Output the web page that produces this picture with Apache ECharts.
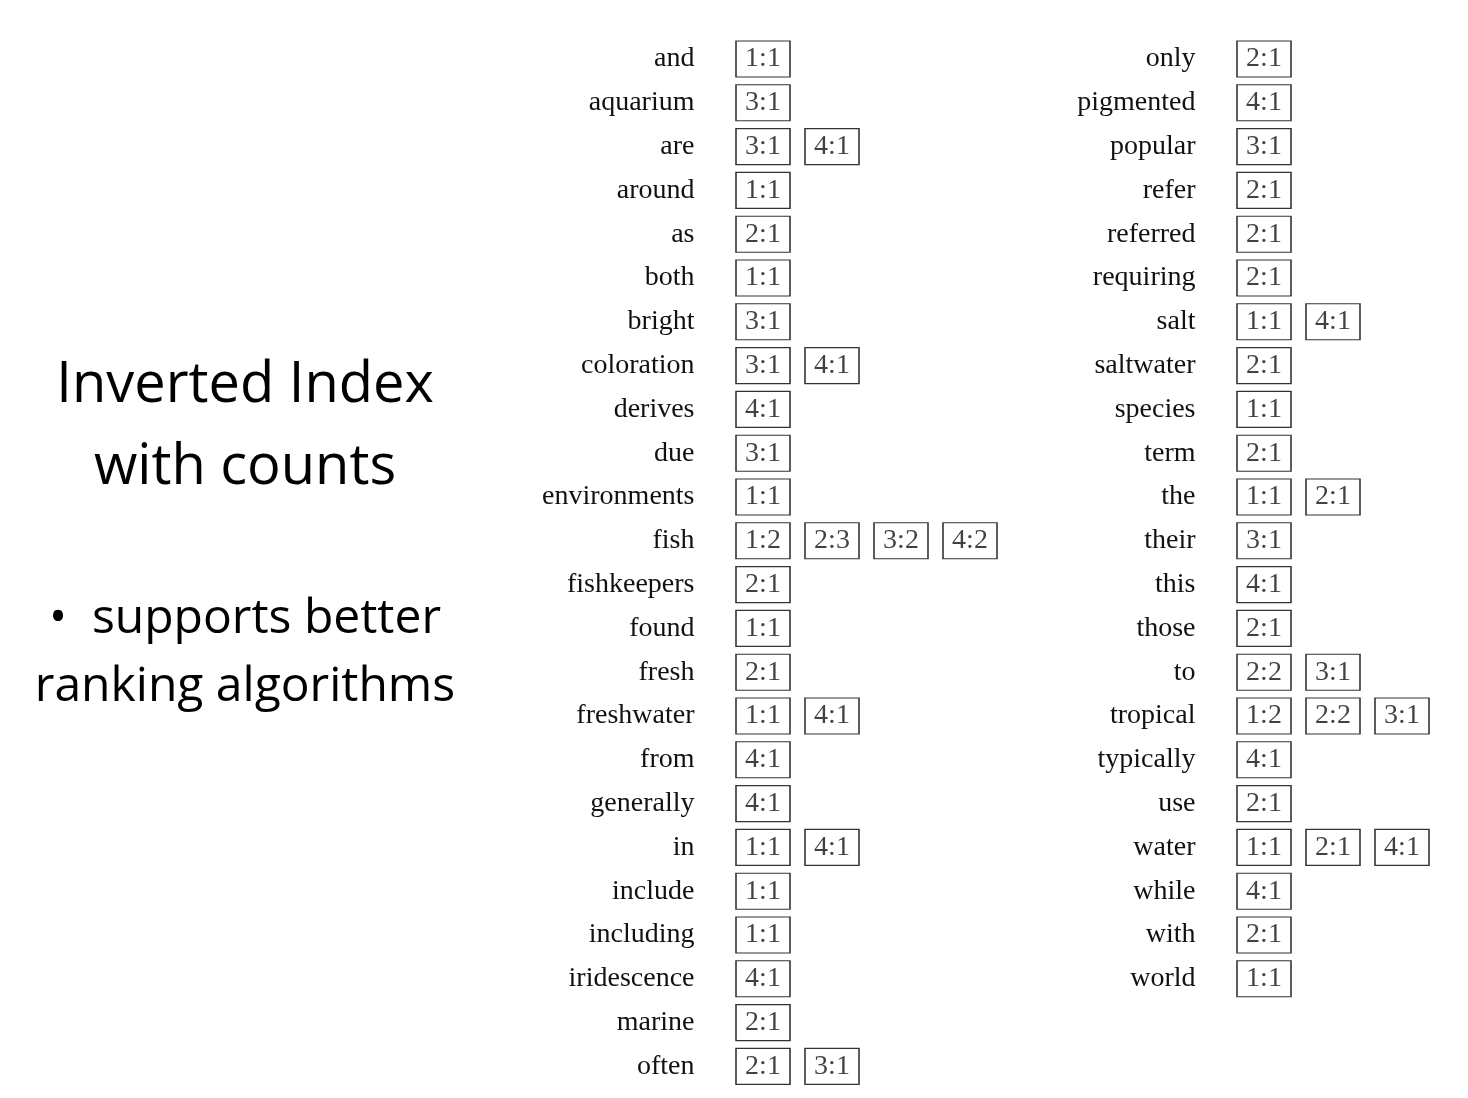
<!DOCTYPE html>
<html>
<head>
<meta charset="utf-8">
<title>Inverted Index with counts</title>
<script src="https://cdn.jsdelivr.net/npm/echarts@6/dist/echarts.min.js"></script>
<style>
    html, body { margin: 0; padding: 0; background: #fff; }
    #main { width: 1468px; height: 1098px; }
</style>
</head>
<body>
<div id="main"></div>
<script>
    // terms and their postings [doc, count]
    var leftTerms = ['and', 'aquarium', 'are', 'around', 'as', 'both', 'bright', 'coloration',
        'derives', 'due', 'environments', 'fish', 'fishkeepers', 'found', 'fresh', 'freshwater',
        'from', 'generally', 'in', 'include', 'including', 'iridescence', 'marine', 'often'];
    var leftPostings = [
        [[1, 1]], [[3, 1]], [[3, 1], [4, 1]], [[1, 1]], [[2, 1]], [[1, 1]], [[3, 1]], [[3, 1], [4, 1]],
        [[4, 1]], [[3, 1]], [[1, 1]], [[1, 2], [2, 3], [3, 2], [4, 2]], [[2, 1]], [[1, 1]], [[2, 1]], [[1, 1], [4, 1]],
        [[4, 1]], [[4, 1]], [[1, 1], [4, 1]], [[1, 1]], [[1, 1]], [[4, 1]], [[2, 1]], [[2, 1], [3, 1]]
    ];
    var rightTerms = ['only', 'pigmented', 'popular', 'refer', 'referred', 'requiring', 'salt', 'saltwater',
        'species', 'term', 'the', 'their', 'this', 'those', 'to', 'tropical', 'typically', 'use',
        'water', 'while', 'with', 'world'];
    var rightPostings = [
        [[2, 1]], [[4, 1]], [[3, 1]], [[2, 1]], [[2, 1]], [[2, 1]], [[1, 1], [4, 1]], [[2, 1]],
        [[1, 1]], [[2, 1]], [[1, 1], [2, 1]], [[3, 1]], [[4, 1]], [[2, 1]], [[2, 2], [3, 1]], [[1, 2], [2, 2], [3, 1]],
        [[4, 1]], [[2, 1]], [[1, 1], [2, 1], [4, 1]], [[4, 1]], [[2, 1]], [[1, 1]]
    ];

    var serif = '"Liberation Serif", "DejaVu Serif", serif';
    var rowH = 43.8;

    function toPoints(postings) {
        var pts = [];
        postings.forEach(function (list, row) {
            list.forEach(function (p, slot) {
                pts.push({ value: [slot, row], name: p[0] + ':' + p[1] });
            });
        });
        return pts;
    }

    function boxSeries(idx, postings) {
        return {
            type: 'scatter',
            xAxisIndex: idx,
            yAxisIndex: idx,
            symbol: 'rect',
            symbolSize: [54, 36],
            itemStyle: { color: '#fff', borderColor: '#000', borderWidth: 1.3 },
            label: {
                show: true, position: 'inside', formatter: '{b}',
                fontFamily: serif, fontSize: 28, color: '#111'
            },
            data: toPoints(postings)
        };
    }

    function yAxis(idx, terms) {
        return {
            type: 'category', gridIndex: idx, data: terms, inverse: true,
            axisLine: { show: false }, axisTick: { show: false }, splitLine: { show: false },
            axisLabel: { fontFamily: serif, fontSize: 28, color: '#111', margin: 34 }
        };
    }

    function xAxis(idx, max) {
        return {
            type: 'value', gridIndex: idx, min: -0.5, max: max, show: false
        };
    }

    var myChart = echarts.init(document.getElementById('main'));

    var option = {
        animation: false,
        title: [
            {
                text: 'Inverted Index\nwith counts', left: 240, top: 340, textAlign: 'center',
                textStyle: { fontFamily: '"Open Sans", "Noto Sans", sans-serif', fontSize: 56, fontWeight: 'normal', lineHeight: 82, color: '#000' }
            },
            {
                text: '•  supports better\nranking algorithms', left: 240, top: 580, textAlign: 'center',
                textStyle: { fontFamily: '"Open Sans", "Noto Sans", sans-serif', fontSize: 48, fontWeight: 'normal', lineHeight: 68, color: '#000' }
            }
        ],
        grid: [
            { left: 728.5, top: 59 - rowH / 2, width: 276, height: rowH * leftTerms.length },
            { left: 1229.5, top: 59 - rowH / 2, width: 207, height: rowH * rightTerms.length }
        ],
        xAxis: [xAxis(0, 3.5), xAxis(1, 2.5)],
        yAxis: [yAxis(0, leftTerms), yAxis(1, rightTerms)],
        series: [boxSeries(0, leftPostings), boxSeries(1, rightPostings)]
    };

    myChart.setOption(option);
</script>
</body>
</html>
